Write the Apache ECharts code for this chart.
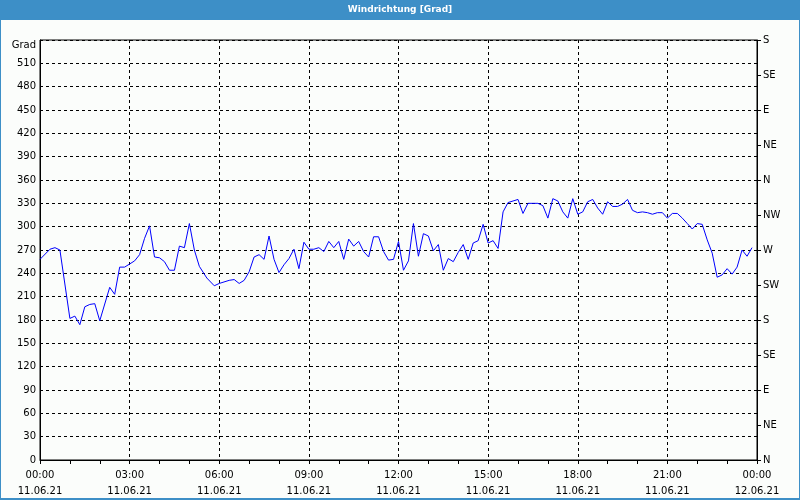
<!DOCTYPE html>
<html>
<head>
<meta charset="utf-8">
<script src="https://cdn.jsdelivr.net/npm/echarts@6/dist/echarts.min.js"></script>
<style>
html,body{margin:0;padding:0;background:#fbfdfb;}
#chart{width:800px;height:500px;}
</style>
</head>
<body>
<div id="chart"></div>
<script>
const titleText = 'Windrichtung [Grad]';
const yAxisName = 'Grad';
const compassLabels = ['N','NE','E','SE','S','SW','W','NW','N','NE','E','SE','S'];
const dayLabels = ['11.06.21', '12.06.21'];

const times = ['00:00','00:20','00:30','00:40','01:00','01:10','01:20','01:30','01:40','01:50',
 '02:00','02:20','02:30','02:40','02:50','03:10','03:20','03:30','03:40','03:50',
 '04:00','04:10','04:20','04:30','04:40','04:50','05:00','05:10','05:20','05:35',
 '05:50','06:00','06:20','06:30','06:40','06:50','07:00','07:10','07:20','07:30',
 '07:40','07:50','08:00','08:10','08:20','08:30','08:40','08:50','09:00','09:10',
 '09:20','09:30','09:40','09:50','10:00','10:10','10:20','10:30','10:40','10:50',
 '11:00','11:10','11:20','11:30','11:40','11:50','12:00','12:10','12:20','12:30',
 '12:40','12:50','13:00','13:10','13:20','13:30','13:40','13:50','14:00','14:10',
 '14:20','14:30','14:40','14:50','15:00','15:10','15:20','15:30','15:40','15:50',
 '16:00','16:10','16:20','16:30','16:40','16:50','17:00','17:10','17:20','17:30',
 '17:40','17:50','18:00','18:10','18:20','18:30','18:40','18:50','19:00','19:10',
 '19:20','19:30','19:40','19:50','20:00','20:10','20:20','20:30','20:40','20:50',
 '21:00','21:10','21:20','21:30','21:40','21:50','22:00','22:10','22:20','22:30',
 '22:40','22:50','23:00','23:10','23:20','23:30','23:40','23:50'];

const direction = [258,271,273,270,182,185,174,197,200,201,
 179,222,213,248,248,256,264,285,301,261,
 260,255,244,244,275,273,304,270,249,234,
 224,227,231,232,227,231,242,261,264,258,
 288,258,241,251,259,271,246,280,271,271,
 273,268,281,273,281,258,284,275,281,268,
 261,287,287,268,257,258,281,244,256,304,
 262,291,288,269,277,244,259,255,267,277,
 258,279,282,303,279,282,272,319,331,333,
 335,317,330,330,330,327,311,336,333,319,
 311,336,316,319,332,335,324,316,332,326,
 326,329,335,321,318,319,318,316,318,318,
 311,317,317,311,304,297,304,303,283,266,
 235,238,246,239,248,270,262,273];

function toHours(t){ const p=t.split(':'); return +p[0] + (+p[1])/60; }
const seriesData = times.map((t,i)=>[toHours(t), direction[i]]);

const font = 'DejaVu Sans';
const chart = echarts.init(document.getElementById('chart'), null, {renderer:'canvas'});
chart.setOption({
  animation:false,
  backgroundColor:'#fbfdfb',
  textStyle:{fontFamily:font},
  graphic:[
    {type:'rect', left:0, top:0, shape:{width:800,height:20}, style:{fill:'#3d8fc7'}, z:10},
    {type:'text', left:'center', top:5, style:{text:titleText, fill:'#ffffff', font:'bold 9px "DejaVu Sans"'}, z:11},
    {type:'rect', shape:{x:0.5,y:0.5,width:799,height:499}, style:{fill:null, stroke:'#3d8fc7', lineWidth:1}, z:10},
    {type:'rect', shape:{x:0,y:498,width:800,height:2}, style:{fill:'#3d8fc7'}, z:10}
  ],
  grid:{left:40, right:43, top:40, bottom:40, show:true, borderColor:'#000', borderWidth:1, backgroundColor:'transparent'},
  xAxis:{
    type:'value', min:0, max:24, interval:3,
    axisLine:{show:true, lineStyle:{color:'#000', width:1}},
    axisTick:{show:true, length:4, lineStyle:{color:'#000'}},
    minorTick:{show:true, splitNumber:3, length:4, lineStyle:{color:'#000'}},
    splitLine:{show:true, lineStyle:{color:'#000', type:[3,3], width:1}},
    axisLabel:{
      color:'#000', fontSize:10, fontFamily:font, lineHeight:16, margin:7,
      formatter:function(v){
        const h = v % 24;
        const hh = (h<10?'0':'') + h + ':00';
        return hh + '\n' + (v>=24 ? dayLabels[1] : dayLabels[0]);
      }
    }
  },
  yAxis:[
    {
      type:'value', min:0, max:540, interval:30, position:'left',
      axisLine:{show:true, lineStyle:{color:'#000'}},
      axisTick:{show:false},
      splitLine:{show:true, lineStyle:{color:'#000', type:[3,3], width:1}},
      axisLabel:{
        color:'#000', fontSize:10, fontFamily:font, margin:4,
        formatter:function(v){ return v===540 ? '{g|'+yAxisName+'}' : String(v); },
        rich:{g:{fontSize:10, fontFamily:font, color:'#000', padding:[10,0,0,0]}}
      }
    },
    {
      type:'value', min:0, max:540, interval:45, position:'right',
      axisLine:{show:true, lineStyle:{color:'#000'}},
      axisTick:{show:true, length:4, lineStyle:{color:'#000'}},
      splitLine:{show:false},
      axisLabel:{
        color:'#000', fontSize:10, fontFamily:font, margin:6,
        formatter:function(v){ return compassLabels[Math.round(v/45)]; }
      }
    }
  ],
  series:[{
    type:'line', data:seriesData, yAxisIndex:0,
    showSymbol:false, symbol:'none',
    lineStyle:{color:'#0000ff', width:1},
    z:5
  }]
});
</script>
</body>
</html>
